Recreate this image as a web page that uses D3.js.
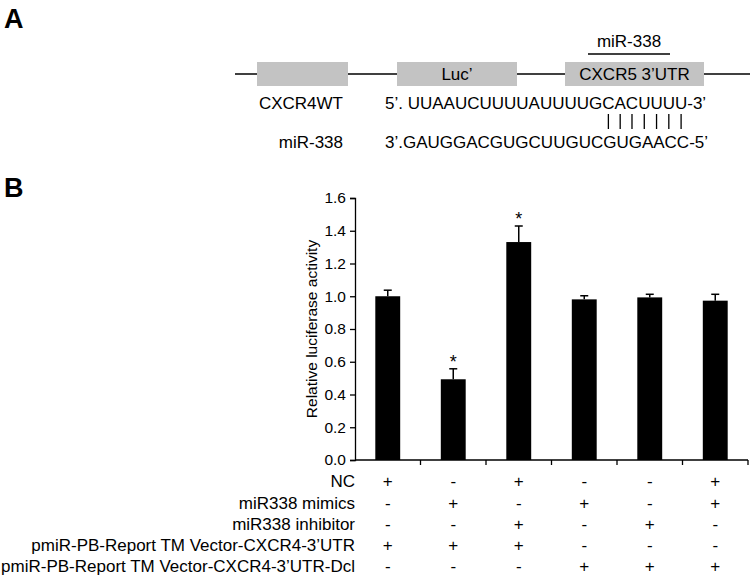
<!DOCTYPE html>
<html><head><meta charset="utf-8">
<script src="https://cdn.jsdelivr.net/npm/d3@7"></script>
<style>
body{margin:0;background:#fff}
svg text{font-family:"Liberation Sans",Arial,sans-serif;fill:#000}
</style>
</head><body>
<svg id="c" width="750" height="575"></svg>
<script>
// ---------- data ----------
const categories = ["G1","G2","G3","G4","G5","G6"];
const values = [1.00, 0.493, 1.331, 0.981, 0.993, 0.973];
const errors = [0.037, 0.064, 0.098, 0.022, 0.019, 0.039];
const significant = [false, true, true, false, false, false];
const yTicks = [0.0, 0.2, 0.4, 0.6, 0.8, 1.0, 1.2, 1.4, 1.6];
const yLabel = "Relative luciferase activity";
const rowLabels = ["NC", "miR338 mimics", "miR338 inhibitor",
  "pmiR-PB-Report TM Vector-CXCR4-3’UTR", "pmiR-PB-Report TM Vector-CXCR4-3’UTR-Dcl"];
const signs = [
  ["+","-","+","-","-","+"],
  ["-","+","-","+","-","+"],
  ["-","-","+","-","+","-"],
  ["+","+","+","-","-","-"],
  ["-","-","-","+","+","+"]
];
const boxLabels = ["", "Luc’", "CXCR5 3’UTR"];
const siteLabel = "miR-338";
const seqNames = ["CXCR4WT", "miR-338"];
const seqs = ["5’. UUAAUCUUUUAUUUUGCACUUUU-3’", "3’.GAUGGACGUGCUUGUCGUGAACC-5’"];
const pairedIdx = [20, 21, 22, 23, 24, 25, 26];
const panelLabels = ["A", "B"];

// ---------- layout ----------
const svg = d3.select("#c");
const FONT_BIG = 17;

svg.append("text").attr("x", 4).attr("y", 28).attr("font-size", 27).attr("font-weight", "bold").text(panelLabels[0]);
svg.append("text").attr("x", 4).attr("y", 197).attr("font-size", 27).attr("font-weight", "bold").text(panelLabels[1]);

// ---- Panel A: construct diagram ----
const lineY = 74;
const boxes = [{x0:257, x1:348}, {x0:397, x1:517}, {x0:565, x1:704}];
svg.append("line").attr("x1", 235).attr("x2", 750).attr("y1", lineY).attr("y2", lineY)
  .attr("stroke", "#000").attr("stroke-width", 1.4);
svg.selectAll("rect.box").data(boxLabels).join("rect").attr("class","box")
  .attr("x", (d,i) => boxes[i].x0).attr("width", (d,i) => boxes[i].x1 - boxes[i].x0)
  .attr("y", 62).attr("height", 24).attr("fill", "#c3c3c3");
svg.selectAll("text.boxlab").data(boxLabels).join("text").attr("class","boxlab")
  .attr("x", (d,i) => (boxes[i].x0 + boxes[i].x1)/2).attr("y", 80)
  .attr("text-anchor", "middle").attr("font-size", FONT_BIG).text(d => d);
svg.append("text").attr("x", 629).attr("y", 47).attr("text-anchor","middle")
  .attr("font-size", FONT_BIG).text(siteLabel);
svg.append("line").attr("x1", 588).attr("x2", 670).attr("y1", 54).attr("y2", 54)
  .attr("stroke", "#000").attr("stroke-width", 1.4);

const seqY = [109, 148];
svg.selectAll("text.seqname").data(seqNames).join("text").attr("class","seqname")
  .attr("x", 343).attr("y", (d,i) => seqY[i]).attr("text-anchor","end")
  .attr("font-size", FONT_BIG).text(d => d);
const seqText = svg.selectAll("text.seq").data(seqs).join("text").attr("class","seq")
  .attr("x", 385).attr("y", (d,i) => seqY[i]).attr("font-size", FONT_BIG).text(d => d);
const s1 = seqText.nodes()[0];
svg.selectAll("line.pair").data(pairedIdx).join("line").attr("class","pair")
  .attr("x1", d => { const e = s1.getExtentOfChar(d); return e.x + e.width/2; })
  .attr("x2", d => { const e = s1.getExtentOfChar(d); return e.x + e.width/2; })
  .attr("y1", 114).attr("y2", 129).attr("stroke", "#000").attr("stroke-width", 1.3);

// ---- Panel B: bar chart ----
const y = d3.scaleLinear().domain([0, 1.6]).range([460, 198]);
const x = d3.scaleBand().domain(categories).range([355, 748]).paddingInner(0.62).paddingOuter(0.31);

const yAxis = svg.append("g").attr("transform", "translate(355,0)")
  .call(d3.axisLeft(y).tickValues(yTicks).tickFormat(d3.format(".1f")).tickSize(5).tickPadding(4));
yAxis.selectAll("text").attr("font-size", 15.5).style("font-family", '"Liberation Sans",Arial,sans-serif');
yAxis.selectAll("line,path").attr("stroke", "#000").attr("stroke-width", 1.3);

const xAxis = svg.append("g").attr("transform", "translate(0,460)");
xAxis.append("line").attr("x1", 355).attr("x2", 748).attr("y1", 0).attr("y2", 0)
  .attr("stroke", "#000").attr("stroke-width", 1.3);
xAxis.selectAll("line.tk").data(categories).join("line").attr("class","tk")
  .attr("x1", d => x(d) + x.bandwidth()/2 + x.step()/2)
  .attr("x2", d => x(d) + x.bandwidth()/2 + x.step()/2)
  .attr("y1", 0).attr("y2", 5).attr("stroke", "#000").attr("stroke-width", 1.3);

svg.append("text").attr("transform", `translate(317,${(y(0)+y(1.6))/2}) rotate(-90)`)
  .attr("text-anchor","middle").attr("font-size", 15.5).text(yLabel);

svg.selectAll("rect.bar").data(categories).join("rect").attr("class","bar")
  .attr("x", d => x(d)).attr("width", x.bandwidth())
  .attr("y", (d,i) => y(values[i])).attr("height", (d,i) => y(0) - y(values[i]))
  .attr("fill", "#000");

const eb = svg.selectAll("g.err").data(categories).join("g").attr("class","err");
eb.append("line")
  .attr("x1", d => x(d) + x.bandwidth()/2).attr("x2", d => x(d) + x.bandwidth()/2)
  .attr("y1", (d,i) => y(values[i])).attr("y2", (d,i) => y(values[i] + errors[i]))
  .attr("stroke", "#000").attr("stroke-width", 1.5);
eb.append("line")
  .attr("x1", d => x(d) + x.bandwidth()/2 - 4).attr("x2", d => x(d) + x.bandwidth()/2 + 4)
  .attr("y1", (d,i) => y(values[i] + errors[i])).attr("y2", (d,i) => y(values[i] + errors[i]))
  .attr("stroke", "#000").attr("stroke-width", 1.5);

svg.selectAll("text.star").data(categories.filter((d,i) => significant[i])).join("text").attr("class","star")
  .attr("x", d => x(d) + x.bandwidth()/2)
  .attr("y", d => { const i = categories.indexOf(d); return y(values[i] + errors[i]) - 1; })
  .attr("text-anchor","middle").attr("font-size", 18).text("*");

// ---- treatment table ----
const rowY = [487, 509, 530, 551, 572];
svg.selectAll("text.rowlab").data(rowLabels).join("text").attr("class","rowlab")
  .attr("x", 355).attr("y", (d,i) => rowY[i]).attr("text-anchor","end")
  .attr("font-size", FONT_BIG).text(d => d);
signs.forEach((row, r) => {
  svg.selectAll(null).data(row).join("text")
    .attr("x", (d,i) => x(categories[i]) + x.bandwidth()/2)
    .attr("y", rowY[r]).attr("text-anchor","middle").attr("font-size", FONT_BIG).text(d => d);
});
</script>
</body></html>
